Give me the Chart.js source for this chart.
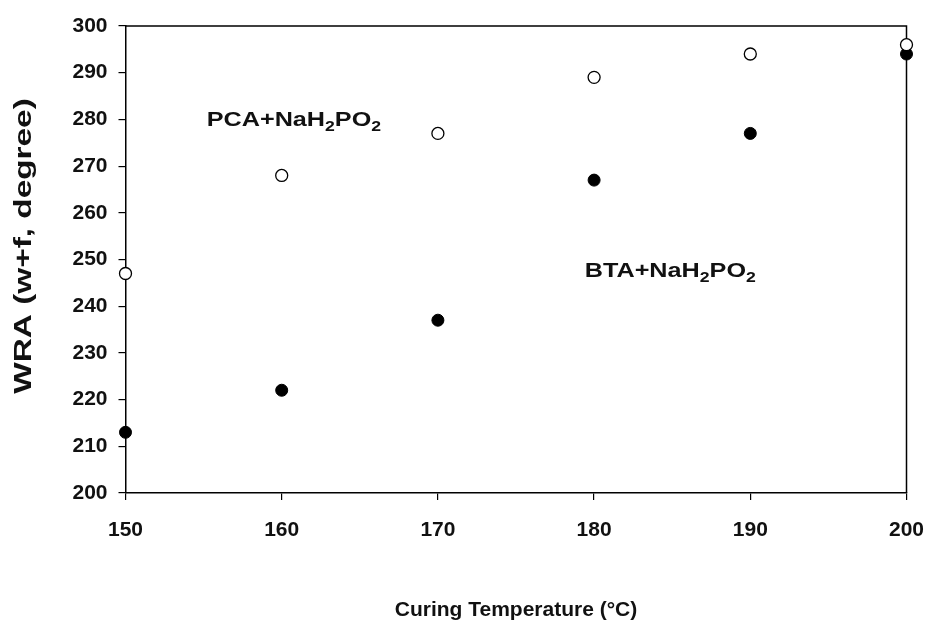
<!DOCTYPE html>
<html>
<head>
<meta charset="utf-8">
<script src="https://cdn.jsdelivr.net/npm/chart.js@4.4.0/dist/chart.umd.min.js"></script>
<style>
  html, body { margin: 0; padding: 0; background: #fff; }
  #wrap { width: 927px; height: 624px; }
</style>
</head>
<body>
<div id="wrap"><canvas id="grafico"></canvas></div>
<script>
// temperaturas de cura (x) e valores WRA
const temperaturas = [150, 160, 170, 180, 190, 200];
const wraPCA = [247, 268, 277, 289, 294, 296];
const wraBTA = [213, 222, 237, 267, 277, 294];

const xTicks = [150, 160, 170, 180, 190, 200];
const yTicks = [200, 210, 220, 230, 240, 250, 260, 270, 280, 290, 300];

// rotulos das series (texto, x, y em unidades do grafico)
const rotulos = [
    { partes: ["PCA+NaH", "2", "PO", "2"], x: 155.2, y: 278.6 },
    { partes: ["BTA+NaH", "2", "PO", "2"], x: 179.4, y: 246.2 }
];
const tituloY = 'WRA (w+f, degree)';

const fonte = "'Liberation Sans', Arial, sans-serif";

function pontos(valores) {
    return temperaturas.map((t, i) => ({ x: t, y: valores[i] }));
}

// desenha a moldura (topo e direita), titulo do eixo y e os rotulos com subscrito
const molduraPlugin = {
    id: 'moldura',
    beforeDatasetsDraw(chart) {
        const ctx = chart.ctx;
        const a = chart.chartArea;
        ctx.save();
        ctx.strokeStyle = '#000';
        ctx.lineWidth = 1.5;
        ctx.beginPath();
        ctx.moveTo(a.left, a.top);
        ctx.lineTo(a.right, a.top);
        ctx.lineTo(a.right, a.bottom);
        ctx.stroke();
        ctx.restore();
    },
    afterDraw(chart) {
        const ctx = chart.ctx;
        ctx.save();
        ctx.fillStyle = '#111';
        ctx.textBaseline = 'alphabetic';
        rotulos.forEach(r => {
            const px0 = chart.scales.x.getPixelForValue(r.x);
            const py = chart.scales.y.getPixelForValue(r.y);
            ctx.save();
            ctx.translate(px0, py);
            ctx.scale(1.26, 1);
            let px = 0;
            r.partes.forEach((p, i) => {
                const sub = i % 2 === 1;
                ctx.font = 'bold ' + (sub ? 14 : 20) + 'px ' + fonte;
                ctx.fillText(p, px, sub ? 5 : 0);
                px += ctx.measureText(p).width;
            });
            ctx.restore();
        });

        // titulo do eixo y (alongado como no original)
        ctx.save();
        ctx.translate(31, 246);
        ctx.rotate(-Math.PI / 2);
        ctx.scale(1.45, 1);
        ctx.font = 'bold 23px ' + fonte;
        ctx.textAlign = 'center';
        ctx.fillText(tituloY, 0, 0);
        ctx.restore();
        ctx.restore();
    }
};

new Chart(document.getElementById('grafico'), {
    type: 'scatter',
    data: {
        datasets: [
            {
                label: 'PCA+NaH2PO2',
                data: pontos(wraPCA),
                clip: false,
                pointRadius: 6,
                pointBorderWidth: 1.3,
                pointBackgroundColor: '#fff',
                pointBorderColor: '#000'
            },
            {
                label: 'BTA+NaH2PO2',
                data: pontos(wraBTA),
                clip: false,
                pointRadius: 6,
                pointBorderWidth: 1,
                pointBackgroundColor: '#000',
                pointBorderColor: '#000'
            }
        ]
    },
    options: {
        responsive: true,
        maintainAspectRatio: false,
        animation: false,
        layout: { padding: { top: 26, right: 20.5, left: 0, bottom: 0 } },
        plugins: {
            legend: { display: false },
            tooltip: { enabled: false }
        },
        scales: {
            x: {
                type: 'linear',
                min: 150,
                max: 200,
                afterBuildTicks: s => { s.ticks = xTicks.map(v => ({ value: v })); },
                afterFit: s => { s.height = 131; s.paddingLeft = 0; s.paddingRight = 0; },
                grid: { drawOnChartArea: false, drawTicks: true, tickLength: 7, color: '#000', lineWidth: 1.2 },
                border: { display: true, color: '#000', width: 1.5 },
                ticks: { color: '#111', padding: 18, font: { family: fonte, size: 21, weight: 'bold' } },
                title: {
                    display: true,
                    text: 'Curing Temperature (°C)',
                    color: '#111',
                    padding: { top: 0, bottom: 1 },
                    font: { family: fonte, size: 21, weight: 'bold' }
                }
            },
            y: {
                type: 'linear',
                min: 200,
                max: 300,
                afterBuildTicks: s => { s.ticks = yTicks.map(v => ({ value: v })); },
                afterFit: s => { s.width = 125.5; s.paddingTop = 0; s.paddingBottom = 0; },
                grid: { drawOnChartArea: false, drawTicks: true, tickLength: 7, color: '#000', lineWidth: 1.2 },
                border: { display: true, color: '#000', width: 1.5 },
                ticks: { color: '#111', padding: 11, font: { family: fonte, size: 21, weight: 'bold' } },
                title: { display: false }
            }
        }
    },
    plugins: [molduraPlugin]
});
</script>
</body>
</html>
